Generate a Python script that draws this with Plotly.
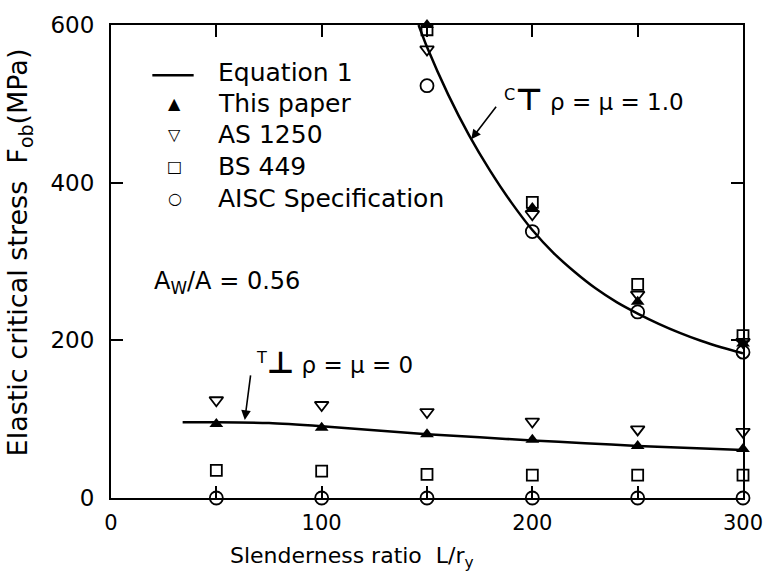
import plotly.graph_objects as go

# ---- data -------------------------------------------------------------
# Equation 1 curves (rho = mu = 1.0 upper, rho = mu = 0 lower)
eq_upper_x = [146, 150, 160, 170, 180, 190, 200, 210, 220, 230, 240, 250,
              260, 270, 280, 290, 300]
eq_upper_y = [600, 572, 512, 460, 415, 375, 340, 311, 287, 266, 248.5, 234,
              221, 209.5, 199.5, 191, 183.5]
eq_lower_x = [34, 50, 75, 100, 125, 150, 175, 200, 225, 250, 275, 300]
eq_lower_y = [96, 96, 95, 91, 86, 81, 77, 73, 69.5, 66, 63.5, 61]

slender_upper = [150, 200, 250, 300]
slender_lower = [50, 100, 150, 200, 250, 300]

this_paper_upper = [600, 368, 249, 196]
this_paper_lower = [94, 89, 81, 74, 66, 62]
as1250_upper = [569, 360, 258, 198]
as1250_lower = [124, 118, 109, 97, 87, 84]
bs449_upper = [594, 375, 271, 206]
bs449_lower = [35, 34, 30, 29, 29, 29]
aisc_upper = [523, 338, 236, 185]
aisc_lower = [0, 0, 0, 0, 0, 0]

x_ticks = [0, 50, 100, 150, 200, 250, 300]
x_tick_text = ["0", "", "100", "", "200", "", "300"]
y_ticks = [0, 200, 400, 600]
y_tick_text = ["0", "200", "400", "600"]

legend_names = ["Equation 1", "This paper", "AS 1250", "BS 449", "AISC Specification"]
legend_keys = [None, "▲", "▽", "□", "○"]

FONT = "DejaVu Sans"
INK = "black"

fig = go.Figure()

# Equation 1: both curves in one trace, broken by a gap
fig.add_trace(go.Scatter(
    x=eq_upper_x + [None] + eq_lower_x,
    y=eq_upper_y + [None] + eq_lower_y,
    mode="lines", name="Equation 1",
    line=dict(color=INK, width=2.5, shape="spline", smoothing=0.6),
    connectgaps=False,
))

series = [
    ("This paper", this_paper_upper, this_paper_lower,
     dict(symbol="triangle-up", size=12, color=INK, line=dict(width=0))),
    ("AS 1250", as1250_upper, as1250_lower,
     dict(symbol="triangle-down-open", size=12, color=INK, line=dict(width=1.8))),
    ("BS 449", bs449_upper, bs449_lower,
     dict(symbol="square-open", size=11, color=INK, line=dict(width=1.8))),
    ("AISC Specification", aisc_upper, aisc_lower,
     dict(symbol="circle-open", size=13, color=INK, line=dict(width=1.8))),
]
for name, up, low, mk in series:
    fig.add_trace(go.Scatter(
        x=slender_upper + slender_lower,
        y=up + low,
        mode="markers", name=name, marker=mk, cliponaxis=False,
    ))

axis_common = dict(
    showgrid=False, zeroline=False, showline=True, linecolor=INK, linewidth=2,
    mirror="ticks", ticks="inside", ticklen=12, tickwidth=2, tickcolor=INK,
)
fig.update_xaxes(range=[0, 300], tickvals=x_ticks, ticktext=x_tick_text,
                 ticklabelstandoff=5,
                 tickfont=dict(family=FONT, size=21, color=INK), **axis_common)
fig.update_yaxes(range=[0, 600], tickvals=y_ticks, ticktext=y_tick_text,
                 ticklabelstandoff=10,
                 tickfont=dict(family=FONT, size=23, color=INK), **axis_common)

annotations = [
    # axis titles
    dict(text="Slenderness ratio  L/r<sub>y</sub>", xref="paper", yref="paper",
         x=0.382, y=-0.125, xanchor="center", yanchor="middle", showarrow=False,
         font=dict(family=FONT, size=22, color=INK)),
    dict(text="Elastic critical stress  F<sub>ob</sub>(MPa)", xref="paper", yref="paper",
         x=-0.145, y=0.52, xanchor="center", yanchor="middle", textangle=-90,
         showarrow=False, font=dict(family=FONT, size=27, color=INK)),
    # section ratio
    dict(text="A<sub>W</sub>/A = 0.56", x=19.6, y=273, xanchor="left",
         yanchor="middle", showarrow=False, font=dict(family=FONT, size=24, color=INK)),
    # curve labels
    dict(text="<sup>C</sup><b><span style='font-size:30px'>⊤</span></b> ρ = μ = 1.0",
         x=185.5, y=505, xanchor="left", yanchor="middle", showarrow=False,
         font=dict(family=FONT, size=23, color=INK)),
    dict(text="<sup>T</sup><b><span style='font-size:30px'>⊥</span></b> ρ = μ = 0",
         x=68, y=172, xanchor="left", yanchor="middle", showarrow=False,
         font=dict(family=FONT, size=23, color=INK)),
    # leader arrows pointing at the curves
    dict(text="", x=171, y=455, ax=26, ay=-34, showarrow=True, arrowhead=2,
         arrowsize=1.2, arrowwidth=1.6, arrowcolor=INK),
    dict(text="", x=63.5, y=99, ax=6, ay=-46, showarrow=True, arrowhead=2,
         arrowsize=1.2, arrowwidth=1.6, arrowcolor=INK),
]

# key block in the upper-left corner
legend_rows_y = [0.900, 0.834, 0.768, 0.700, 0.634]
shapes = []
for name, key, ry in zip(legend_names, legend_keys, legend_rows_y):
    annotations.append(dict(text=name, xref="paper", yref="paper", x=0.166, y=ry,
                            xanchor="left", yanchor="middle", showarrow=False,
                            font=dict(family=FONT, size=25, color=INK)))
    if key is None:
        shapes.append(dict(type="line", xref="paper", yref="paper",
                           x0=0.0654, x1=0.1308, y0=ry - 0.006, y1=ry - 0.006,
                           line=dict(color=INK, width=2.5)))
    else:
        annotations.append(dict(text=key, xref="paper", yref="paper", x=0.101, y=ry,
                                xanchor="center", yanchor="middle", showarrow=False,
                                font=dict(family=FONT, size=16, color=INK)))

fig.update_layout(
    width=775, height=580,
    margin=dict(l=111, r=22, t=15, b=82),
    paper_bgcolor="white", plot_bgcolor="white",
    font=dict(family=FONT, color=INK),
    showlegend=False,
    annotations=annotations,
    shapes=shapes,
)

fig.write_html("out.html")
